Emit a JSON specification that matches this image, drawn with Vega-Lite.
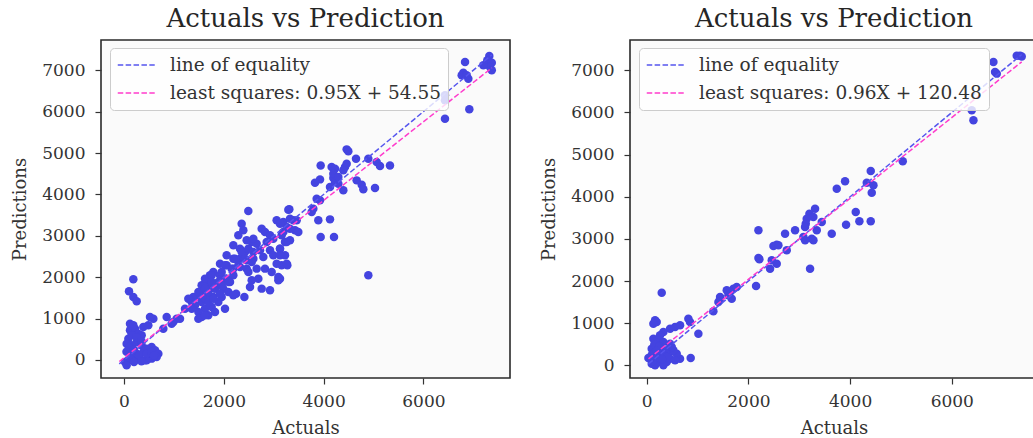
{
 "$schema": "https://vega.github.io/schema/vega-lite/v6.json",
 "background": "white",
 "padding": {"left": 10, "top": 5, "right": 0, "bottom": 0},
 "spacing": 120,
 "bounds": "flush",
 "config": {
  "font": "DejaVu Serif",
  "view": {"fill": "#fafafa", "stroke": "#2a2a2a", "strokeWidth": 1.6},
  "axis": {"grid": false, "domain": false, "tickColor": "#333333", "tickSize": 6, "tickWidth": 1.2, "labelFont": "DejaVu Serif", "labelFontSize": 17, "labelColor": "#333333", "titleFont": "DejaVu Serif", "titleFontSize": 18, "titleFontWeight": "normal", "titleColor": "#333333"},
  "axisX": {"labelPadding": 9, "titlePadding": 10},
  "axisY": {"labelPadding": 10, "titlePadding": 12},
  "title": {"font": "DejaVu Serif", "fontSize": 26, "fontWeight": "normal", "color": "#262626", "offset": 8},
  "legend": {"orient": "none", "legendX": 9, "legendY": 8, "symbolType": "M-1,0H3", "symbolSize": 342, "symbolStrokeWidth": 1.5, "symbolDash": [5.5, 2.4], "labelFont": "DejaVu Serif", "labelFontSize": 18.5, "labelColor": "#333333", "labelOffset": 33, "labelLimit": 500, "padding": 7, "rowPadding": 8, "fillColor": "rgba(255,255,255,0.8)", "strokeColor": "#cccccc", "cornerRadius": 4}
 },
 "datasets": {
  "left_pts": [
   {"actual":7320,"pred":7343},{"actual":7280,"pred":7240},{"actual":7370,"pred":7180},{"actual":7335,"pred":7077},{"actual":7370,"pred":6997},{"actual":7200,"pred":7118},{"actual":6834,"pred":7198},{"actual":6800,"pred":6940},{"actual":6767,"pred":6877},{"actual":6900,"pred":6795},{"actual":6867,"pred":6877},{"actual":6920,"pred":6055},{"actual":6432,"pred":5829},{"actual":6432,"pred":6393},{"actual":6432,"pred":6273},
   {"actual":4462,"pred":5088},{"actual":4495,"pred":5040},{"actual":4649,"pred":4862},{"actual":4896,"pred":4862},{"actual":5063,"pred":4782},{"actual":5130,"pred":4685},{"actual":5330,"pred":4701},{"actual":3941,"pred":4701},{"actual":4161,"pred":4661},{"actual":4228,"pred":4621},{"actual":4429,"pred":4661},{"actual":4462,"pred":4742},{"actual":4395,"pred":4581},{"actual":3928,"pred":4363},{"actual":3827,"pred":4283},{"actual":4195,"pred":4396},{"actual":4228,"pred":4299},{"actual":4295,"pred":4259},{"actual":4128,"pred":4178},{"actual":4395,"pred":4098},{"actual":4662,"pred":4339},{"actual":4763,"pred":4235},{"actual":4796,"pred":4122},{"actual":5030,"pred":4154},{"actual":4195,"pred":4500},{"actual":4295,"pred":4420},{"actual":3861,"pred":3897},{"actual":3928,"pred":3856},{"actual":3794,"pred":3655},{"actual":3761,"pred":3575},{"actual":3894,"pred":3373},{"actual":4128,"pred":3397},{"actual":3941,"pred":2971},{"actual":4208,"pred":2971},{"actual":4896,"pred":2045},
   {"actual":3313,"pred":3639},{"actual":3193,"pred":3333},{"actual":3260,"pred":3212},{"actual":3393,"pred":3373},{"actual":3427,"pred":3132},{"actual":3493,"pred":3092},{"actual":3159,"pred":3011},{"actual":3226,"pred":2850},{"actual":3326,"pred":2890},{"actual":3126,"pred":2689},{"actual":3226,"pred":2528},{"actual":3159,"pred":2287},{"actual":3273,"pred":2287},{"actual":3126,"pred":1965},{"actual":3293,"pred":3631},{"actual":3059,"pred":3374},{"actual":3126,"pred":3293},{"actual":3326,"pred":3414},{"actual":3460,"pred":3374},{"actual":3326,"pred":3172},{"actual":3193,"pred":3092},{"actual":2759,"pred":3172},{"actual":2825,"pred":3092},{"actual":2926,"pred":3012},{"actual":2992,"pred":2931},
   {"actual":2491,"pred":3599},{"actual":2358,"pred":3293},{"actual":2391,"pred":3132},{"actual":2291,"pred":3012},{"actual":2458,"pred":2891},{"actual":2558,"pred":2851},{"actual":2658,"pred":2810},{"actual":2859,"pred":2851},{"actual":2191,"pred":2770},{"actual":2324,"pred":2690},{"actual":2425,"pred":2609},{"actual":2592,"pred":2609},{"actual":2725,"pred":2649},{"actual":2926,"pred":2649},{"actual":3126,"pred":2690},{"actual":3260,"pred":2851},{"actual":2057,"pred":2529},{"actual":2191,"pred":2448},{"actual":2324,"pred":2448},{"actual":2458,"pred":2408},{"actual":2592,"pred":2448},{"actual":2792,"pred":2488},{"actual":2992,"pred":2529},{"actual":3126,"pred":2529},{"actual":3260,"pred":2327},{"actual":3059,"pred":2327},{"actual":1924,"pred":2327},{"actual":2057,"pred":2287},{"actual":2191,"pred":2207},{"actual":2324,"pred":2247},{"actual":2458,"pred":2207},{"actual":2658,"pred":2207},{"actual":2825,"pred":2207},{"actual":2959,"pred":2126},{"actual":1790,"pred":2126},{"actual":1723,"pred":2046},{"actual":1924,"pred":2046},{"actual":2057,"pred":1965},{"actual":2191,"pred":2046},{"actual":1656,"pred":1885},{"actual":1590,"pred":1804},{"actual":1723,"pred":1724},{"actual":1857,"pred":1804},{"actual":1990,"pred":1724},{"actual":2124,"pred":1885},{"actual":1523,"pred":1643},{"actual":1389,"pred":1522},{"actual":1656,"pred":1563},{"actual":1790,"pred":1522},{"actual":2692,"pred":1965},{"actual":2525,"pred":1764},{"actual":2759,"pred":1724},{"actual":2926,"pred":1683},{"actual":3093,"pred":1925},{"actual":3093,"pred":2005},{"actual":2247,"pred":1600},{"actual":2412,"pred":1520},
   {"actual":1423,"pred":1320},{"actual":1556,"pred":1401},{"actual":1623,"pred":1240},{"actual":1490,"pred":1160},{"actual":1690,"pred":1079},{"actual":1556,"pred":1039},{"actual":1757,"pred":1280},{"actual":1890,"pred":1401},{"actual":1823,"pred":1160},{"actual":1957,"pred":1522},{"actual":1623,"pred":1482},{"actual":1456,"pred":1522},{"actual":1556,"pred":1804},{"actual":1623,"pred":1965},{"actual":1757,"pred":2045},{"actual":1890,"pred":1884},{"actual":2024,"pred":1965},{"actual":1690,"pred":1643},{"actual":1823,"pred":1723},{"actual":1957,"pred":1804},{"actual":2091,"pred":1884},{"actual":2157,"pred":2206},{"actual":2291,"pred":2287},{"actual":2224,"pred":2448},{"actual":2358,"pred":2608},{"actual":2492,"pred":2689},{"actual":2592,"pred":2931},{"actual":2425,"pred":2448},{"actual":2559,"pred":2367},{"actual":2024,"pred":2287},{"actual":1957,"pred":2126},{"actual":2091,"pred":1643},{"actual":2191,"pred":1562},{"actual":1690,"pred":1401},{"actual":1790,"pred":1482},{"actual":2024,"pred":1240},{"actual":1490,"pred":998},{"actual":1623,"pred":1079},{"actual":1356,"pred":1240},{"actual":2559,"pred":1924},{"actual":2492,"pred":2126},{"actual":1924,"pred":1602},{"actual":1757,"pred":1884},{"actual":1490,"pred":1643},{"actual":1623,"pred":1723},
   {"actual":187,"pred":1948},{"actual":100,"pred":1659},{"actual":187,"pred":1522},{"actual":254,"pred":1417},{"actual":588,"pred":998},{"actual":487,"pred":837},{"actual":855,"pred":1039},{"actual":1055,"pred":998},{"actual":955,"pred":878},{"actual":1222,"pred":1240},{"actual":1356,"pred":1401},{"actual":1289,"pred":1482},{"actual":153,"pred":838},{"actual":120,"pred":717},{"actual":220,"pred":757},{"actual":287,"pred":636},{"actual":354,"pred":596},{"actual":87,"pred":515},{"actual":53,"pred":395},{"actual":153,"pred":355},{"actual":254,"pred":435},{"actual":354,"pred":355},{"actual":454,"pred":274},{"actual":554,"pred":314},{"actual":621,"pred":234},{"actual":688,"pred":153},{"actual":654,"pred":73},{"actual":487,"pred":113},{"actual":387,"pred":194},{"actual":254,"pred":153},{"actual":153,"pred":113},{"actual":87,"pred":-8},{"actual":20,"pred":-48},{"actual":53,"pred":-129},{"actual":287,"pred":33},{"actual":421,"pred":-8},{"actual":554,"pred":33},{"actual":454,"pred":-8},{"actual":120,"pred":877},{"actual":187,"pred":838},{"actual":387,"pred":797},{"actual":521,"pred":1039},{"actual":788,"pred":757},{"actual":988,"pred":918},{"actual":1122,"pred":998},{"actual":100,"pred":300},{"actual":200,"pred":250},{"actual":300,"pred":100},{"actual":150,"pred":600},{"actual":50,"pred":200},{"actual":250,"pred":550},{"actual":350,"pred":450},{"actual":450,"pred":150},{"actual":550,"pred":200},{"actual":600,"pred":100},{"actual":120,"pred":50},{"actual":200,"pred":-50},{"actual":350,"pred":-30}
  ],
  "left_lines": [
   {"series":"line of equality","actual":-95,"pred":-95},{"series":"line of equality","actual":7370,"pred":7370},
   {"series":"least squares: 0.95X + 54.55","actual":-95,"pred":-35.7},{"series":"least squares: 0.95X + 54.55","actual":7370,"pred":7056}
  ],
  "right_pts": [
   {"actual":7278,"pred":7344},{"actual":7343,"pred":7344},{"actual":7376,"pred":7330},{"actual":6819,"pred":7198},{"actual":6852,"pred":6961},{"actual":6885,"pred":6922},{"actual":6393,"pred":6051},{"actual":6426,"pred":5814},
   {"actual":5036,"pred":4841},{"actual":4406,"pred":4611},{"actual":4328,"pred":4334},{"actual":4459,"pred":4271},{"actual":4426,"pred":4097},{"actual":3738,"pred":4192},{"actual":3901,"pred":4366},{"actual":4111,"pred":3638},{"actual":4183,"pred":3417},{"actual":4406,"pred":3417},{"actual":3921,"pred":3338},{"actual":3311,"pred":3718},{"actual":3200,"pred":3599},{"actual":3278,"pred":3520},{"actual":3147,"pred":3480},{"actual":3443,"pred":3401},{"actual":3128,"pred":3361},{"actual":3344,"pred":3203},{"actual":3246,"pred":3006},{"actual":3115,"pred":2966},{"actual":3279,"pred":2966},{"actual":2918,"pred":3203},{"actual":2721,"pred":3124},{"actual":3639,"pred":3124},{"actual":2197,"pred":3203},{"actual":2557,"pred":2863},{"actual":2492,"pred":2832},{"actual":2754,"pred":2729},{"actual":2197,"pred":2547},{"actual":2459,"pred":2491},{"actual":2557,"pred":2412},{"actual":2426,"pred":2294},{"actual":3213,"pred":2294},{"actual":2151,"pred":1882},{"actual":3114,"pred":3282},{"actual":3081,"pred":3045},{"actual":2216,"pred":2515},{"actual":2590,"pred":2847},
   {"actual":1705,"pred":1819},{"actual":1639,"pred":1740},{"actual":1607,"pred":1661},{"actual":1770,"pred":1859},{"actual":1672,"pred":1582},{"actual":1442,"pred":1582},{"actual":1311,"pred":1281},{"actual":1016,"pred":751},{"actual":459,"pred":514},{"actual":164,"pred":1068},{"actual":196,"pred":1028},{"actual":131,"pred":989},{"actual":295,"pred":1724},{"actual":865,"pred":174},{"actual":655,"pred":158},{"actual":1574,"pred":1779},{"actual":1443,"pred":1621},{"actual":1410,"pred":1502},{"actual":852,"pred":1028},{"actual":819,"pred":1107},{"actual":557,"pred":909},{"actual":459,"pred":870},{"actual":656,"pred":949},
   {"actual":131,"pred":632},{"actual":229,"pred":593},{"actual":328,"pred":553},{"actual":197,"pred":474},{"actual":98,"pred":395},{"actual":295,"pred":395},{"actual":393,"pred":356},{"actual":131,"pred":277},{"actual":262,"pred":277},{"actual":459,"pred":316},{"actual":590,"pred":277},{"actual":66,"pred":158},{"actual":197,"pred":158},{"actual":328,"pred":237},{"actual":459,"pred":158},{"actual":557,"pred":118},{"actual":98,"pred":39},{"actual":229,"pred":79},{"actual":393,"pred":79},{"actual":328,"pred":0},{"actual":164,"pred":0},{"actual":33,"pred":174},{"actual":328,"pred":791},{"actual":262,"pred":712},{"actual":524,"pred":356},{"actual":492,"pred":435},{"actual":150,"pred":500},{"actual":250,"pred":450},{"actual":100,"pred":250},{"actual":200,"pred":350},{"actual":400,"pred":200},{"actual":300,"pred":150},{"actual":120,"pred":100}
  ],
  "right_lines": [
   {"series":"line of equality","actual":35,"pred":35},{"series":"line of equality","actual":7376,"pred":7376},
   {"series":"least squares: 0.96X + 120.48","actual":35,"pred":154.1},{"series":"least squares: 0.96X + 120.48","actual":7376,"pred":7201.4}
  ]
 },
 "resolve": {"scale": {"x": "independent", "y": "independent", "color": "independent"}, "legend": {"color": "independent"}},
 "hconcat": [
  {
   "width": 409, "height": 338,
   "title": "Actuals vs Prediction",
   "layer": [
    {"data": {"name": "left_pts"}, "mark": {"type": "circle", "size": 72, "color": "#4444e0", "opacity": 1},
     "encoding": {
      "x": {"field": "actual", "type": "quantitative", "scale": {"domain": [-461, 7735], "nice": false, "zero": false}, "axis": {"title": "Actuals", "values": [0, 2000, 4000, 6000], "format": "d"}},
      "y": {"field": "pred", "type": "quantitative", "scale": {"domain": [-435, 7730], "nice": false, "zero": false}, "axis": {"title": "Predictions", "values": [0, 1000, 2000, 3000, 4000, 5000, 6000, 7000], "format": "d"}}
     }},
    {"data": {"name": "left_lines"}, "mark": {"type": "line", "strokeDash": [5.5, 2.4], "strokeWidth": 1.5},
     "encoding": {
      "x": {"field": "actual", "type": "quantitative"},
      "y": {"field": "pred", "type": "quantitative"},
      "color": {"field": "series", "type": "nominal", "sort": null, "scale": {"domain": ["line of equality", "least squares: 0.95X + 54.55"], "range": ["#5555ee", "#ff3ccc"]}, "legend": {"title": null}}
     }}
   ]
  },
  {
   "width": 408, "height": 338,
   "title": "Actuals vs Prediction",
   "layer": [
    {"data": {"name": "right_pts"}, "mark": {"type": "circle", "size": 72, "color": "#4444e0", "opacity": 1},
     "encoding": {
      "x": {"field": "actual", "type": "quantitative", "scale": {"domain": [-329, 7696], "nice": false, "zero": false}, "axis": {"title": "Actuals", "values": [0, 2000, 4000, 6000], "format": "d"}},
      "y": {"field": "pred", "type": "quantitative", "scale": {"domain": [-301, 7720], "nice": false, "zero": false}, "axis": {"title": "Predictions", "values": [0, 1000, 2000, 3000, 4000, 5000, 6000, 7000], "format": "d"}}
     }},
    {"data": {"name": "right_lines"}, "mark": {"type": "line", "strokeDash": [5.5, 2.4], "strokeWidth": 1.5},
     "encoding": {
      "x": {"field": "actual", "type": "quantitative"},
      "y": {"field": "pred", "type": "quantitative"},
      "color": {"field": "series", "type": "nominal", "sort": null, "scale": {"domain": ["line of equality", "least squares: 0.96X + 120.48"], "range": ["#5555ee", "#ff3ccc"]}, "legend": {"title": null}}
     }}
   ]
  }
 ]
}
